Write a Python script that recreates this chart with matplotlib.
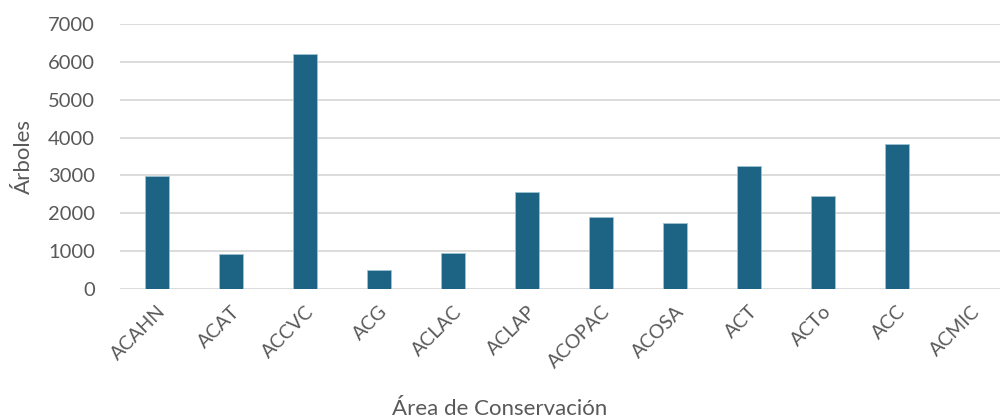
import matplotlib
matplotlib.use("Agg")
from matplotlib import pyplot as plt

areas = ["ACAHN", "ACAT", "ACCVC", "ACG", "ACLAC", "ACLAP",
         "ACOPAC", "ACOSA", "ACT", "ACTo", "ACC", "ACMIC"]
arboles = [2995, 925, 6210, 495, 945, 2570, 1893, 1745, 3240, 2450, 3840, 0]

plt.rcParams["font.family"] = ["Lato", "DejaVu Sans"]

fig = plt.figure(figsize=(10, 4.19), dpi=100)
ax = fig.add_axes([0.12, 0.3103, 0.888, 0.6325])

ax.bar(range(len(areas)), arboles, width=0.315, color="#1d6383",
       edgecolor="#9fc3d3", linewidth=0.6, zorder=3)

ax.set_xlim(-0.5, len(areas) - 0.5)
ax.set_ylim(0, 7000)
ax.set_yticks(range(0, 7001, 1000))
ax.yaxis.grid(True, color="#d9d9d9", linewidth=1.3, zorder=0)
for s in ax.spines.values():
    s.set_visible(False)
ax.tick_params(length=0, labelsize=14.5, labelcolor="#595959")
ax.tick_params(axis="y", pad=18)
ax.set_xticks(range(len(areas)))
ax.set_xticklabels(areas, rotation=45, ha="right", rotation_mode="anchor",
                   fontsize=14)
ax.tick_params(axis="x", pad=10)

ax.set_ylabel("Árboles", fontsize=16, color="#595959", labelpad=10)
fig.text(0.5, 0.025, "Área de Conservación", fontsize=16, color="#595959",
         ha="center", va="center")

fig.savefig("out.png", dpi=100)
